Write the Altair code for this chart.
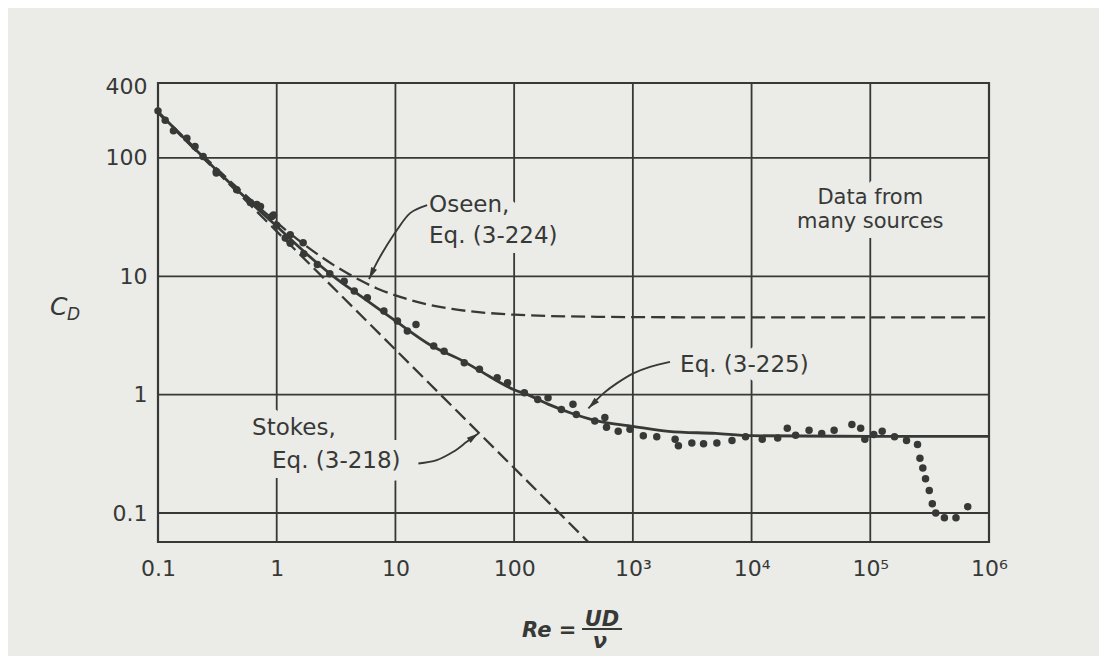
import altair as alt
import pandas as pd

BG = "#ebebe8"
INK = "#373937"
FONT = "DejaVu Sans"

# ---------------- values ----------------
dots_re = [0.1, 0.115, 0.135, 0.175, 0.205, 0.24, 0.31, 0.31, 0.46, 0.6, 0.68, 0.73, 0.91, 0.94, 1.0,
           1.18, 1.3, 1.3, 1.67, 1.69, 2.2, 2.8, 3.7, 4.5, 5.8, 8.0, 10.4, 12.6, 14.9, 21, 25.7, 38, 51,
           72, 88, 122, 158, 193, 250, 313, 334, 478, 581, 600, 753, 946, 1225, 1590, 2270, 2420, 3140,
           3940, 5100, 6840, 8900, 12300, 16600, 20000, 23500, 30500, 39000, 49600, 70000, 83000, 90000,
           107000, 126000, 160000, 202000, 250000, 262000, 277000, 292000, 314000, 333000, 356000,
           421000, 527000, 662000]
dots_cd = [250, 208, 170, 147, 125, 103, 77, 74.7, 54, 42, 40.4, 39, 32, 33, 27,
           21.1, 22.5, 19, 19.2, 15.5, 12.6, 10.5, 9.1, 7.5, 6.6, 5.1, 4.19, 3.45, 3.92, 2.58, 2.33, 1.86, 1.64,
           1.39, 1.26, 1.04, 0.91, 0.94, 0.75, 0.83, 0.68, 0.60, 0.64, 0.53, 0.49, 0.51, 0.45, 0.44, 0.42, 0.37, 0.39,
           0.385, 0.39, 0.41, 0.44, 0.42, 0.43, 0.52, 0.455, 0.50, 0.47, 0.50, 0.56, 0.52, 0.42,
           0.46, 0.49, 0.44, 0.41, 0.38, 0.29, 0.24, 0.195, 0.155, 0.12, 0.10,
           0.091, 0.091, 0.113]

stokes_re = [0.1, 1, 10, 100, 1000]
stokes_cd = [240, 24, 2.4, 0.24, 0.024]

oseen_re = [0.1, 0.2, 0.5, 1, 2, 3, 5, 7, 10, 20, 30, 50, 100, 200, 500, 1000, 1e4, 1e5, 1e6]
oseen_cd = [244.5, 124.5, 52.5, 28.5, 16.5, 12.5, 9.3, 7.9, 6.9, 5.7, 5.3, 4.98, 4.74, 4.62, 4.55, 4.52, 4.5, 4.5, 4.5]

fit_re = [0.1, 0.2, 0.5, 1, 2, 3, 5, 10, 20, 38, 50, 100, 130, 200, 300, 500, 1000, 2000, 5000, 1e4, 1e5, 1e6]
fit_cd = [245, 122, 50, 26.5, 14, 10, 6.9, 4.2, 2.6, 1.9, 1.62, 1.1, 1.0, 0.82, 0.70, 0.60, 0.54, 0.49, 0.47, 0.45, 0.445, 0.445]

vgrid_re = [1, 10, 100, 1e3, 1e4, 1e5]
hgrid_cd = [0.1, 1, 10, 100]

xtick_values = [0.1, 1, 10, 100, 1e3, 1e4, 1e5, 1e6]
xtick_labels = ["0.1", "1", "10", "100", "10³", "10⁴", "10⁵", "10⁶"]
ytick_values = [0.1, 1, 10, 100, 400]
ytick_labels = ["0.1", "1", "10", "100", "400"]

ann_text = ["Oseen,", "Eq. (3-224)", "Eq. (3-225)", "Stokes,", "Eq. (3-218)"]
ann_re = [19.2, 19.2, 2500, 0.62, 0.913]
ann_cd = [34.9, 19.1, 1.55, 0.455, 0.239]

note_text = ["Data from", "many sources"]
note_re = [1e5, 1e5]
note_cd = [40.5, 25.6]

# arrows (annotation leaders), in data units
arrow_id = ["oseen"] * 6 + ["eq225"] * 6 + ["stokes"] * 5
arrow_re = [18.5, 13.3, 10.3, 8.02, 6.73, 6.0,
            2056, 1396, 1009, 731, 565, 422,
            15.6, 22.3, 30.7, 39.9, 49.9]
arrow_cd = [40.0, 34.2, 24.6, 16.7, 12.2, 9.48,
            1.894, 1.719, 1.514, 1.246, 1.026, 0.766,
            0.262, 0.280, 0.329, 0.3995, 0.470]
tip_re = [6.0, 422, 49.9]
tip_cd = [9.48, 0.766, 0.470]
tip_angle = [205, 225, 54]

# axis titles
ytitle_text = ["C", "D"]
ytitle_re = [0.0123, 0.0171]
ytitle_cd = [4.71, 4.28]
ytitle_size = [25, 17]

xtitle_text = ["Re =", "UD", "ν"]
xtitle_re = [116.6, 550, 529]
xtitle_cd = [0.00896, 0.0111, 0.0072]
frac_re = [373, 811]
frac_cd = [0.01047, 0.01047]

# ---------------- tables ----------------
dots = pd.DataFrame({"Re": dots_re, "CD": dots_cd})
stokes = pd.DataFrame({"Re": stokes_re, "CD": stokes_cd})
oseen = pd.DataFrame({"Re": oseen_re, "CD": oseen_cd})
fit = pd.DataFrame({"Re": fit_re, "CD": fit_cd})
vgrid = pd.DataFrame({"Re": vgrid_re})
hgrid = pd.DataFrame({"CD": hgrid_cd})
ann = pd.DataFrame({"Re": ann_re, "CD": ann_cd, "label": ann_text})
note = pd.DataFrame({"Re": note_re, "CD": note_cd, "label": note_text})
arrows = pd.DataFrame({"Re": arrow_re, "CD": arrow_cd, "id": arrow_id, "i": list(range(len(arrow_re)))})
tips = pd.DataFrame({"Re": tip_re, "CD": tip_cd, "ang": tip_angle})
ytitle = pd.DataFrame({"Re": ytitle_re, "CD": ytitle_cd, "label": ytitle_text, "fs": ytitle_size})
xtitle_l = pd.DataFrame({"Re": xtitle_re[:1], "CD": xtitle_cd[:1], "label": xtitle_text[:1]})
xtitle_c = pd.DataFrame({"Re": xtitle_re[1:], "CD": xtitle_cd[1:], "label": xtitle_text[1:]})
frac = pd.DataFrame({"Re": frac_re, "CD": frac_cd})


def label_expr(values, labels):
    expr = "'" + labels[-1] + "'"
    for v, l in reversed(list(zip(values[:-1], labels[:-1]))):
        expr = f"datum.value < {v * 1.5} ? '{l}' : " + expr
    return expr


xs = alt.Scale(type="log", domain=[0.1, 1e6], nice=False)
ys = alt.Scale(type="log", domain=[0.0569, 430], nice=False)

x_axis = alt.Axis(values=xtick_values, labelExpr=label_expr(xtick_values, xtick_labels), grid=False,
                  ticks=False, domain=False, labelFont=FONT, labelFontSize=22, labelColor=INK,
                  labelPadding=16, labelOverlap=False, labelFlush=False, labelBound=False, title=None)
y_axis = alt.Axis(values=ytick_values, labelExpr=label_expr(ytick_values, ytick_labels), grid=False,
                  ticks=False, domain=False, labelFont=FONT, labelFontSize=22, labelColor=INK,
                  labelPadding=11, labelOverlap=False, labelFlush=False, labelBound=False, title=None)

X = alt.X("Re:Q", scale=xs, axis=x_axis)
Y = alt.Y("CD:Q", scale=ys, axis=y_axis)

# ---------------- layers ----------------
hg = alt.Chart(hgrid).mark_rule(color=INK, strokeWidth=1.8).encode(y=Y)
vg = alt.Chart(vgrid).mark_rule(color=INK, strokeWidth=1.8).encode(x=X)

halo_ann = alt.Chart(ann).mark_text(align="left", baseline="alphabetic", font=FONT, fontSize=23,
                                    fill=BG, stroke=BG, strokeWidth=20, strokeJoin="round").encode(
    x=X, y=Y, text="label:N")
halo_note = alt.Chart(note).mark_text(align="center", baseline="alphabetic", font=FONT, fontSize=21,
                                      fill=BG, stroke=BG, strokeWidth=20, strokeJoin="round").encode(
    x=X, y=Y, text="label:N")

stokes_l = alt.Chart(stokes).mark_line(color=INK, strokeWidth=2.3, strokeDash=[14, 6], clip=True).encode(x=X, y=Y)
oseen_l = alt.Chart(oseen).mark_line(color=INK, strokeWidth=2.3, strokeDash=[14, 6], interpolate="monotone").encode(x=X, y=Y)
fit_l = alt.Chart(fit).mark_line(color=INK, strokeWidth=2.8, interpolate="monotone").encode(x=X, y=Y)

dots_p = alt.Chart(dots).mark_point(filled=True, size=56, color=INK, opacity=1).encode(x=X, y=Y)

arrow_l = alt.Chart(arrows).mark_line(color=INK, strokeWidth=1.9, interpolate="cardinal").encode(
    x=X, y=Y, detail="id:N", order="i:Q")
arrow_h = alt.Chart(tips).mark_point(shape="M0,0L-0.27,1L0.27,1Z", filled=True, size=560, color=INK,
                                     opacity=1).encode(x=X, y=Y, angle=alt.Angle("ang:Q", scale=None))

ann_t = alt.Chart(ann).mark_text(align="left", baseline="alphabetic", font=FONT, fontSize=23, color=INK).encode(
    x=X, y=Y, text="label:N")
note_t = alt.Chart(note).mark_text(align="center", baseline="alphabetic", font=FONT, fontSize=21, color=INK).encode(
    x=X, y=Y, text="label:N")

ytitle_t = alt.Chart(ytitle).mark_text(align="left", baseline="alphabetic", font=FONT, fontStyle="italic",
                                       color=INK).encode(
    x=X, y=Y, text="label:N", size=alt.Size("fs:Q", scale=None))
xtitle_lt = alt.Chart(xtitle_l).mark_text(align="left", baseline="alphabetic", font=FONT, fontStyle="italic",
                                          fontWeight="bold", fontSize=21, color=INK).encode(
    x=X, y=Y, text="label:N")
xtitle_ct = alt.Chart(xtitle_c).mark_text(align="center", baseline="alphabetic", font=FONT, fontStyle="italic",
                                          fontWeight="bold", fontSize=21, color=INK).encode(
    x=X, y=Y, text="label:N")
frac_l = alt.Chart(frac).mark_line(color=INK, strokeWidth=2.2).encode(x=X, y=Y)

chart = alt.layer(
    hg, vg, halo_ann, halo_note, stokes_l, oseen_l, fit_l, dots_p,
    arrow_l, arrow_h, ann_t, note_t, ytitle_t, xtitle_lt, xtitle_ct, frac_l
).properties(
    width=831, height=459, background=BG,
    autosize=alt.AutoSizeParams(type="none"),
    padding={"left": 150, "top": 75, "right": 110, "bottom": 114},
).configure_view(stroke=INK, strokeWidth=2.2)

chart.save("out.html", embed_options={"renderer": "svg", "actions": False})
